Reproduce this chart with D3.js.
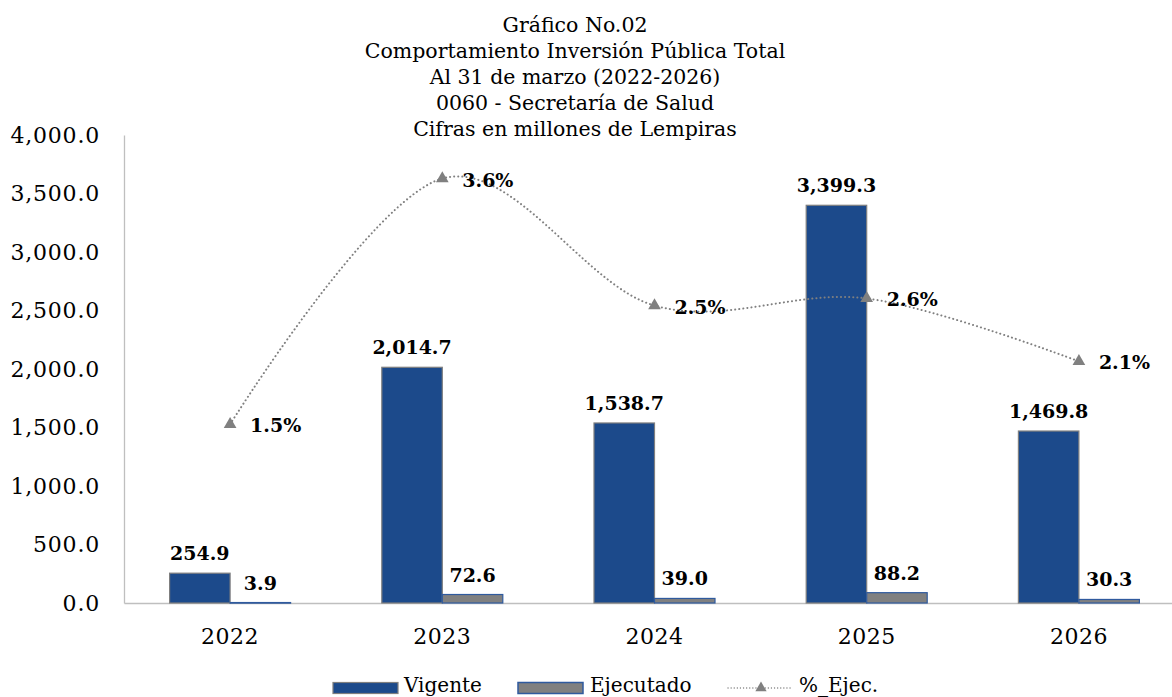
<!DOCTYPE html>
<html><head><meta charset="utf-8">
<script src="https://cdn.jsdelivr.net/npm/d3@7"></script>
<style>
body{margin:0;background:#fff;}
text{font-family:"DejaVu Serif",Georgia,serif;fill:#000;}
</style></head>
<body><svg id="c" width="1172" height="697"></svg>
<script>
const titleLines = ["Gráfico No.02","Comportamiento Inversión Pública Total","Al 31 de marzo (2022-2026)","0060 - Secretaría de Salud","Cifras en millones de Lempiras"];
const years = ["2022","2023","2024","2025","2026"];
const vigente = [254.9, 2014.7, 1538.7, 3399.3, 1469.8];
const ejecutado = [3.9, 72.6, 39.0, 88.2, 30.3];
const pctEjec = [1.53, 3.60, 2.53, 2.59, 2.06];
const yTicks = [0,500,1000,1500,2000,2500,3000,3500,4000];
const seriesNames = ["Vigente","Ejecutado","%_Ejec."];

(function(){
const svg = d3.select("#c");
const pLeft = 124, pRight = 1185, pBottom = 603, pTop = 135;

const x = d3.scaleBand().domain(years).range([pLeft, pRight]).padding(0);
const bw = x.bandwidth();
const barW = 60.5;
const x1 = d3.scaleBand().domain(["Vigente","Ejecutado"]).range([bw/2 - barW, bw/2 + barW]).padding(0);
const y = d3.scaleLinear().domain([0, 4000]).range([pBottom, pTop]);
const y2 = d3.scaleLinear().domain([0, 4.0]).range([606, 131]);

const C_VIG = "#1C4A8B", C_VIG_STROKE = "#7F7F7F";
const C_EJE = "#808080", C_EJE_STROKE = "#2F5A9E";
const C_LINE = "#808080";

// Title
svg.append("g").selectAll("text").data(titleLines).join("text")
  .attr("x", 575).attr("y", (d,i) => 32 + i*26)
  .attr("text-anchor","middle").style("font-size","20.5px").text(d => d);

// Y axis
const yAxis = svg.append("g").attr("transform", `translate(${pLeft},0)`)
  .call(d3.axisLeft(y).tickValues(yTicks).tickSize(0).tickPadding(24).tickFormat(d3.format(",.1f")));
yAxis.select(".domain").attr("stroke","#BFBFBF").attr("stroke-width",1.3);
yAxis.selectAll("text").style("font-size","22px").style("letter-spacing","0.8px")
  .style("font-family","DejaVu Serif").attr("fill","#000");

// X axis
const xAxis = svg.append("g").attr("transform", `translate(0,${pBottom})`)
  .call(d3.axisBottom(x).tickSize(0).tickPadding(25));
xAxis.select(".domain").attr("stroke","#BFBFBF").attr("stroke-width",1.3);
xAxis.selectAll("text").style("font-size","22px").style("letter-spacing","0.5px")
  .style("font-family","DejaVu Serif").attr("fill","#000");

// Bars
const g = svg.append("g");
g.selectAll("rect.vig").data(years).join("rect").attr("class","vig")
  .attr("x", d => x(d) + x1("Vigente")).attr("width", x1.bandwidth())
  .attr("y", (d,i) => y(vigente[i])).attr("height", (d,i) => y(0) - y(vigente[i]))
  .attr("fill", C_VIG).attr("stroke", C_VIG_STROKE).attr("stroke-width", 1.2);
g.selectAll("rect.eje").data(years).join("rect").attr("class","eje")
  .attr("x", d => x(d) + x1("Ejecutado")).attr("width", x1.bandwidth())
  .attr("y", (d,i) => y(ejecutado[i])).attr("height", (d,i) => Math.max(0.6, y(0) - y(ejecutado[i])))
  .attr("fill", C_EJE).attr("stroke", C_EJE_STROKE).attr("stroke-width", 1.2);

// Bar labels
g.selectAll("text.vl").data(years).join("text").attr("class","vl")
  .attr("x", d => x(d) + x1("Vigente") + x1.bandwidth()/2)
  .attr("y", (d,i) => y(vigente[i]) - 13)
  .attr("text-anchor","middle").style("font-size","19px").style("font-weight","bold")
  .text((d,i) => d3.format(",.1f")(vigente[i]));
g.selectAll("text.el").data(years).join("text").attr("class","el")
  .attr("x", d => x(d) + x1("Ejecutado") + x1.bandwidth()/2)
  .attr("y", (d,i) => y(ejecutado[i]) - 13)
  .attr("text-anchor","middle").style("font-size","19px").style("font-weight","bold")
  .text((d,i) => d3.format(",.1f")(ejecutado[i]));

// Line
const cx = d => x(d) + bw/2;
const line = d3.line().x(d => cx(d)).y((d,i) => y2(pctEjec[i])).curve(d3.curveCardinal.tension(0));
svg.append("path").datum(years).attr("d", line)
  .attr("fill","none").attr("stroke", C_LINE).attr("stroke-width", 2)
  .attr("stroke-dasharray","0.1,4").attr("stroke-linecap","round");
const tri = d3.symbol().type(d3.symbolTriangle).size(70);
svg.append("g").selectAll("path").data(years).join("path")
  .attr("d", tri).attr("transform", (d,i) => `translate(${cx(d)},${y2(pctEjec[i])})`)
  .attr("fill", C_LINE);
svg.append("g").selectAll("text").data(years).join("text")
  .attr("x", d => cx(d) + 20).attr("y", (d,i) => y2(pctEjec[i]) + 8)
  .style("font-size","19px").style("font-weight","bold")
  .text((d,i) => d3.format(".1f")(pctEjec[i]) + "%");

// Legend
const lg = svg.append("g");
const ly = 688;
lg.append("rect").attr("x",333).attr("y",ly-5.5).attr("width",65).attr("height",11)
  .attr("fill",C_VIG).attr("stroke",C_VIG_STROKE).attr("stroke-width",1.2);
lg.append("text").attr("x",404).attr("y",ly+4).style("font-size","20px").text(seriesNames[0]);
lg.append("rect").attr("x",518).attr("y",ly-5.5).attr("width",65).attr("height",11)
  .attr("fill",C_EJE).attr("stroke",C_EJE_STROKE).attr("stroke-width",1.5);
lg.append("text").attr("x",590).attr("y",ly+4).style("font-size","20px").text(seriesNames[1]);
lg.append("line").attr("x1",728).attr("x2",792).attr("y1",ly).attr("y2",ly)
  .attr("stroke",C_LINE).attr("stroke-width",1.3).attr("stroke-dasharray","0.1,3").attr("stroke-linecap","round");
lg.append("path").attr("d", d3.symbol().type(d3.symbolTriangle).size(55)).attr("transform",`translate(761,${ly})`).attr("fill",C_LINE);
lg.append("text").attr("x",799).attr("y",ly+4).style("font-size","20px").text(seriesNames[2]);
})();
</script></body></html>
